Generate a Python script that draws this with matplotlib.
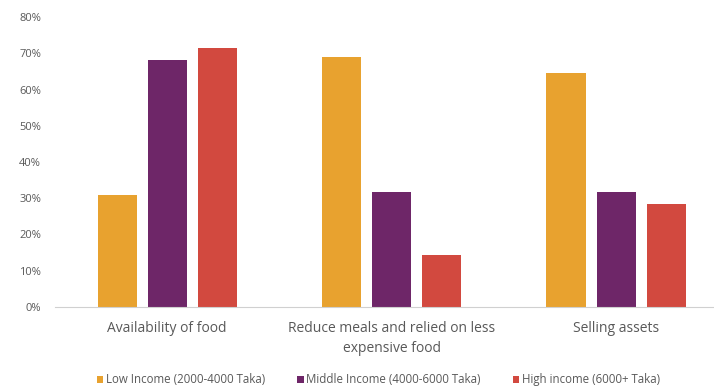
import numpy as np
import matplotlib
matplotlib.use("Agg")
from matplotlib import pyplot as plt
from matplotlib.ticker import PercentFormatter

# data
categories = ["Availability of food", "Reduce meals and relied on less\nexpensive food", "Selling assets"]
series_names = ["Low Income (2000-4000 Taka)", "Middle Income (4000-6000 Taka)", "High income (6000+ Taka)"]
low_income = [30.9, 69.0, 64.5]
middle_income = [68.2, 31.8, 31.8]
high_income = [71.4, 14.4, 28.5]
colors = ["#E8A22F", "#6E2668", "#D2493F"]

plt.rcParams['font.family'] = ['Open Sans', 'DejaVu Sans']
text_color = "#595959"

fig = plt.figure(figsize=(7.14, 3.9), dpi=100)
# axes runs a bit past the right edge, like the reference
ax = fig.add_axes([0.077, 0.213, 0.943, 0.743])

x = np.arange(len(categories))
width = 0.174
step = 0.223
for i, (vals, name) in enumerate(zip([low_income, middle_income, high_income], series_names)):
    ax.bar(x + (i - 1) * step, vals, width, color=colors[i], label=name)

ax.set_ylim(0, 80)
ax.set_yticks(np.arange(0, 81, 10))
ax.yaxis.set_major_formatter(PercentFormatter(decimals=0))
ax.set_xlim(-0.5, 2.5)
ax.set_xticks(x)
ax.set_xticklabels(categories, fontsize=10, color=text_color, linespacing=1.5)
ax.tick_params(axis='y', labelsize=8, colors=text_color, length=0, pad=10)
ax.tick_params(axis='x', length=0, pad=10)

for s in ["top", "right", "left"]:
    ax.spines[s].set_visible(False)
ax.spines["bottom"].set_color("#d0d0d0")

leg = fig.legend(loc="center", bbox_to_anchor=(0.53, 0.026), ncol=3, frameon=False,
                 fontsize=8.3, handlelength=0.55, handleheight=0.55, handletextpad=0.25,
                 columnspacing=2.8)
for t in leg.get_texts():
    t.set_color(text_color)

fig.savefig("out.png", dpi=100)
